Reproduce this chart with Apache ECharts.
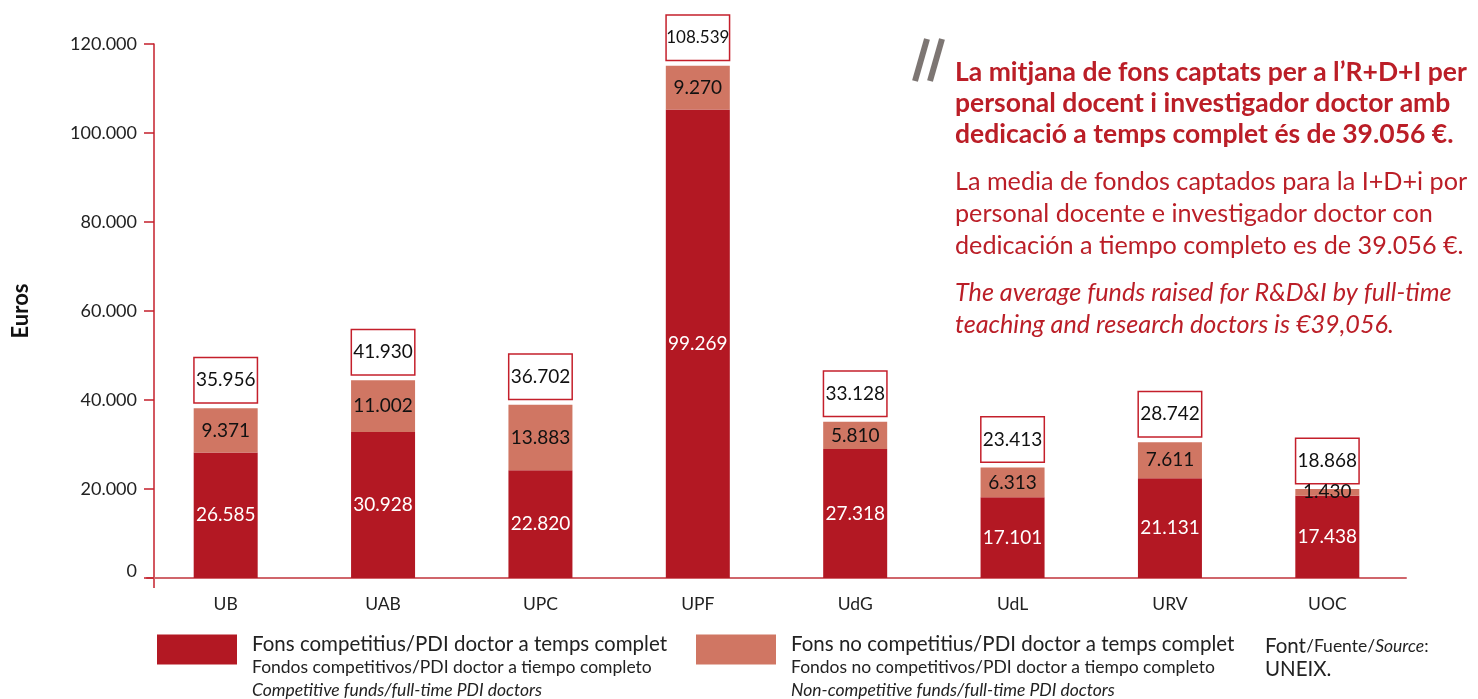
<!DOCTYPE html>
<html>
<head>
<meta charset="utf-8">
<script src="https://cdn.jsdelivr.net/npm/echarts@6/dist/echarts.min.js"></script>
<style>html,body{margin:0;padding:0;background:#fff;}#c{width:1478px;height:699px;}</style>
</head>
<body>
<div id="c"></div>
<script>
const categories = ['UB', 'UAB', 'UPC', 'UPF', 'UdG', 'UdL', 'URV', 'UOC'];
const competitive = [26585, 30928, 22820, 99269, 27318, 17101, 21131, 17438];
const nonCompetitive = [9371, 11002, 13883, 9270, 5810, 6313, 7611, 1430];
const totals = [35956, 41930, 36702, 108539, 33128, 23413, 28742, 18868];
const yTickLabels = ['0', '20.000', '40.000', '60.000', '80.000', '100.000', '120.000'];
const seriesNames = [
  'Fons competitius/PDI doctor a temps complet',
  'Fons no competitius/PDI doctor a temps complet'
];
const legendSub = [
  ['Fondos competitivos/PDI doctor a tiempo completo', 'Competitive funds/full-time PDI doctors'],
  ['Fondos no competitivos/PDI doctor a tiempo completo', 'Non-competitive funds/full-time PDI doctors']
];

const FONT = 'Lato';
const DARK = '#b31823';
const LIGHT = '#d07663';
const RED = '#c41f2b';
const TXTRED = '#bb1e27';

function fmt(n) { return String(n).replace(/\B(?=(\d{3})+(?!\d))/g, '.'); }

// The reference draws the bars on a slightly different scale than its tick labels;
// the axis range reproduces that (6 tick steps labelled 0 .. 120.000).
const AXIS_MAX = 113160;

const chart = echarts.init(document.getElementById('c'));
const legendRich = {
  a: { fontFamily: FONT, fontSize: 20.5, color: '#222', lineHeight: 23 },
  b: { fontFamily: FONT, fontSize: 17.5, color: '#222', lineHeight: 23 },
  c: { fontFamily: FONT, fontSize: 17.5, color: '#222', fontStyle: 'italic', lineHeight: 23 }
};
function legendFmt(name) {
  const i = seriesNames.indexOf(name);
  return '{a|' + name + '}\n{b|' + legendSub[i][0] + '}\n{c|' + legendSub[i][1] + '}';
}
function legendCfg(i, left) {
  return {
    data: [seriesNames[i]], left: left, top: 634, padding: 0,
    itemWidth: 80, itemHeight: 30, itemGap: 0, icon: 'rect',
    selectedMode: false,
    formatter: legendFmt,
    textStyle: { rich: legendRich, padding: [36, 0, 0, 10] }
  };
}

chart.setOption({
  animation: false,
  grid: { left: 147, right: 72, top: 44, bottom: 121, containLabel: false },
  legend: [legendCfg(0, 157), legendCfg(1, 696)],
  xAxis: {
    type: 'category', data: categories,
    axisLine: { lineStyle: { color: '#d0656b', width: 2 } },
    axisTick: { show: false },
    axisLabel: { fontFamily: FONT, fontSize: 17.5, color: '#222', margin: 17 }
  },
  yAxis: {
    type: 'value', min: 0, max: AXIS_MAX, interval: AXIS_MAX / 6, offset: -7,
    name: 'Euros', nameLocation: 'middle', nameGap: 122,
    nameTextStyle: { fontFamily: FONT, fontSize: 22, fontWeight: 'bold', color: '#111' },
    axisLine: { show: true, lineStyle: { color: RED, width: 1.5 } },
    axisTick: { show: true, length: 10, lineStyle: { color: RED, width: 1.5 } },
    splitLine: { show: false },
    axisLabel: {
      fontFamily: FONT, fontSize: 18, color: '#222', margin: 17,
      formatter: function (v, i) { return i === 0 ? '{z|0}' : yTickLabels[i]; },
      rich: { z: { fontFamily: FONT, fontSize: 18, color: '#222', padding: [0, 0, 14, 0] } }
    }
  },
  series: [
    {
      name: seriesNames[0], type: 'bar', stack: 'f', barWidth: 64, barGap: '-100%',
      data: competitive, itemStyle: { color: DARK },
      label: { show: true, position: 'inside', formatter: p => fmt(p.value),
        fontFamily: FONT, fontSize: 19, color: '#fff' }
    },
    {
      name: seriesNames[1], type: 'bar', stack: 'f', barWidth: 64, barGap: '-100%',
      data: nonCompetitive, itemStyle: { color: LIGHT },
      label: { show: true, position: 'inside', formatter: p => fmt(p.value),
        fontFamily: FONT, fontSize: 19, color: '#111' }
    },
    {
      name: 'total', type: 'bar', barWidth: 64, barGap: '-100%', silent: true,
      data: totals, itemStyle: { color: 'rgba(0,0,0,0)' }, z: 1,
      label: { show: true, position: 'top', distance: 6,
        formatter: p => p.value >= 100000 ? '{s|' + fmt(p.value) + '}' : fmt(p.value),
        rich: { s: { fontFamily: FONT, fontSize: 17, color: '#111', lineHeight: 44 } },
        fontFamily: FONT, fontSize: 19, color: '#111',
        backgroundColor: '#fff', borderColor: RED, borderWidth: 1.5,
        width: 62, height: 44, lineHeight: 44, align: 'center', padding: 0 }
    }
  ],
  graphic: [
    { type: 'line', shape: { x1: 154, y1: 578, x2: 154, y2: 588 }, style: { stroke: RED, lineWidth: 1.5 } },
    { type: 'line', shape: { x1: 927, y1: 39, x2: 915, y2: 81 }, style: { stroke: '#7d7673', lineWidth: 6 } },
    { type: 'line', shape: { x1: 942, y1: 39, x2: 930, y2: 81 }, style: { stroke: '#7d7673', lineWidth: 6 } },
    { type: 'text', left: 955, top: 57, style: {
      text: 'La mitjana de fons captats per a l\u2019R+D+I per\npersonal docent i investigador doctor amb\ndedicaci\u00f3 a temps complet \u00e9s de 39.056 \u20ac.',
      fontFamily: FONT, fontSize: 26.5, fontWeight: 'bold', fill: TXTRED, lineHeight: 31 } },
    { type: 'text', left: 955, top: 166, style: {
      text: 'La media de fondos captados para la I+D+i por\npersonal docente e investigador doctor con\ndedicaci\u00f3n a tiempo completo es de 39.056 \u20ac.',
      fontFamily: FONT, fontSize: 25.2, fill: TXTRED, lineHeight: 32 } },
    { type: 'text', left: 955, top: 277, style: {
      text: 'The average funds raised for R&D&I by full-time\nteaching and research doctors is \u20ac39,056.',
      fontFamily: FONT, fontSize: 25.2, fontStyle: 'italic', fill: TXTRED, lineHeight: 32 } },
    { type: 'text', left: 1265, top: 636, style: {
      text: '{a|Font}{b|/Fuente/}{c|Source}{b|:}\n{a|UNEIX.}',
      rich: {
        a: { fontFamily: FONT, fontSize: 20.5, fill: '#222', lineHeight: 23 },
        b: { fontFamily: FONT, fontSize: 17.5, fill: '#222', lineHeight: 23 },
        c: { fontFamily: FONT, fontSize: 17.5, fill: '#222', fontStyle: 'italic', lineHeight: 23 }
      } } }
  ]
});
</script>
</body>
</html>
